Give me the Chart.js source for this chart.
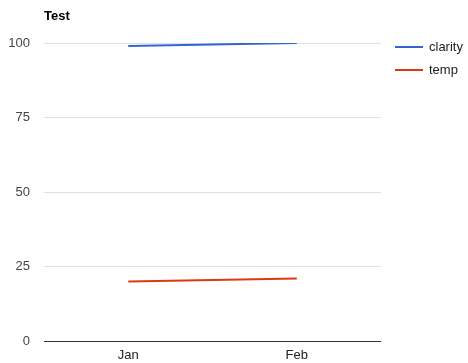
<!DOCTYPE html>
<html>
<head>
<meta charset="utf-8">
<script src="https://cdn.jsdelivr.net/npm/chart.js@4"></script>
<style>
  html, body { margin: 0; padding: 0; background: #fff; }
  #wrap { width: 468px; height: 363px; }
</style>
</head>
<body>
<div id="wrap"><canvas id="chart" width="468" height="363"></canvas></div>
<script>
const chartTitle = "Test";
const months = ["Jan", "Feb"];
const clarity = [99, 100];
const temp = [20, 21];
const yTicks = [0, 25, 50, 75, 100];

const FONT = "Arial, 'Liberation Sans', sans-serif";

// title and legend drawn next to the plot area, google-charts style
const sidePlugin = {
  id: "side",
  afterDraw(chart) {
    const c = chart.ctx;
    const area = chart.chartArea;
    c.save();
    c.fillStyle = "#000";
    c.font = "bold 13px " + FONT;
    c.textBaseline = "alphabetic";
    c.textAlign = "left";
    c.fillText(chartTitle, area.left, 20);

    c.font = "13px " + FONT;
    c.textBaseline = "middle";
    chart.data.datasets.forEach((ds, i) => {
      const y = 47 + i * 23;
      c.strokeStyle = ds.borderColor;
      c.lineWidth = 2;
      c.beginPath();
      c.moveTo(395, y);
      c.lineTo(423, y);
      c.stroke();
      c.fillStyle = "#222";
      c.fillText(ds.label, 429, y);
    });
    c.restore();
  }
};

new Chart(document.getElementById("chart").getContext("2d"), {
  type: "line",
  data: {
    labels: months,
    datasets: [
      { label: "clarity", data: clarity, borderColor: "#3366cc", borderWidth: 2, pointRadius: 0, tension: 0 },
      { label: "temp", data: temp, borderColor: "#dc3912", borderWidth: 2, pointRadius: 0, tension: 0 }
    ]
  },
  options: {
    responsive: false,
    animation: false,
    layout: { padding: { top: 43, right: 87, bottom: 0, left: 0 } },
    plugins: {
      legend: { display: false },
      title: { display: false },
      tooltip: { enabled: false }
    },
    scales: {
      x: {
        offset: true,
        afterFit: axis => { axis.height = 21; },
        grid: { display: false, drawTicks: false },
        border: { display: false },
        ticks: { color: "#222", font: { family: FONT, size: 13 }, padding: 6 }
      },
      y: {
        min: 0,
        max: 100,
        afterBuildTicks: axis => { axis.ticks = yTicks.map(v => ({ value: v })); },
        afterFit: axis => { axis.width = 44; },
        grid: {
          drawTicks: false,
          color: ctx => (ctx.tick && ctx.tick.value === 0 ? "#333" : "#e0e0e0"),
          lineWidth: 1
        },
        border: { display: false },
        ticks: { color: "#444", font: { family: FONT, size: 13 }, padding: 14 }
      }
    }
  },
  plugins: [sidePlugin]
});
</script>
</body>
</html>
